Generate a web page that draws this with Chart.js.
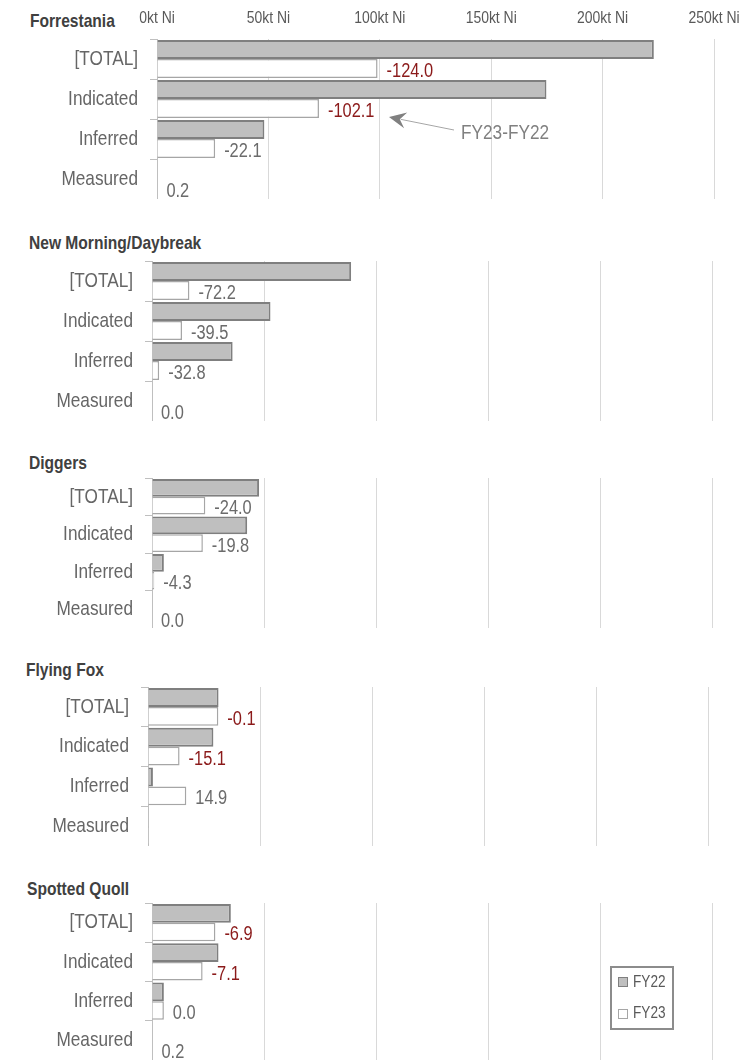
<!DOCTYPE html>
<html>
<head>
<meta charset="utf-8">
<script src="https://cdn.jsdelivr.net/npm/chart.js@4.4.0/dist/chart.umd.min.js"></script>
<style>
  body { margin: 0; background: #fff; }
  #pagina { position: relative; width: 749px; height: 1060px; overflow: hidden; font-family: 'Liberation Sans', Arial, sans-serif; }
  canvas { position: absolute; left: 0; }
  .titulo { position: absolute; font-weight: bold; color: #404040; font-size: 19px; line-height: 19px; white-space: nowrap; transform: scaleX(0.82); transform-origin: 0 0; }
  #legenda { position: absolute; left: 610px; top: 966px; width: 60px; height: 60px; border: 2px solid #8c8c8c; }
  .marca { position: absolute; left: 6px; width: 8px; height: 8px; }
  .nome { position: absolute; left: 21px; font-size: 16px; line-height: 16px; color: #595959; white-space: nowrap; transform: scaleX(0.85); transform-origin: 0 0; }
</style>
</head>
<body>
<div id="pagina"></div>
<script>
  const categorias = ['[TOTAL]', 'Indicated', 'Inferred', 'Measured'];
  const projetos = ['Forrestania', 'New Morning/Daybreak', 'Diggers', 'Flying Fox', 'Spotted Quoll'];
  const series = ['FY22', 'FY23'];
  const rotulos_x = ['0kt Ni', '50kt Ni', '100kt Ni', '150kt Ni', '200kt Ni', '250kt Ni'];

  // valores em kt Ni
  const fy22_forrestania = [223.0, 174.8, 48.2, 0.0];
  const fy23_forrestania = [99.0, 72.7, 26.1, 0.2];
  const dif_forrestania = ['-124.0', '-102.1', '-22.1', '0.2'];
  const verm_forrestania = [true, true, false, false];

  const fy22_newmorning = [88.9, 52.9, 36.0, 0.0];
  const fy23_newmorning = [16.7, 13.4, 3.2, 0.0];
  const dif_newmorning = ['-72.2', '-39.5', '-32.8', '0.0'];
  const verm_newmorning = [false, false, false, false];

  const fy22_diggers = [47.8, 42.5, 5.3, 0.0];
  const fy23_diggers = [23.8, 22.7, 1.0, 0.0];
  const dif_diggers = ['-24.0', '-19.8', '-4.3', '0.0'];
  const verm_diggers = [false, false, false, false];

  const fy22_flyingfox = [31.5, 29.2, 2.2, 0.0];
  const fy23_flyingfox = [31.4, 14.1, 17.1, 0.4];
  const dif_flyingfox = ['-0.1', '-15.1', '14.9', ''];
  const verm_flyingfox = [true, true, false, false];

  const fy22_quoll = [35.2, 29.7, 5.3, 0.0];
  const fy23_quoll = [28.3, 22.6, 5.3, 0.2];
  const dif_quoll = ['-6.9', '-7.1', '0.0', '0.2'];
  const verm_quoll = [true, true, false, false];

  const cor_fy22 = '#bfbfbf';
  const cor_borda_fy22 = '#7f7f7f';
  const cor_fy23 = '#ffffff';
  const cor_borda_fy23 = '#a6a6a6';
  const fonte = "'Liberation Sans', Arial, sans-serif";
  const estreito = 0.82; // imita Arial Narrow

  // posicao de cada painel na pagina
  const paineis = [
    { fy22: fy22_forrestania, fy23: fy23_forrestania, dif: dif_forrestania, verm: verm_forrestania, topo: 0, altura: 199, esq: 157, dir: 714, eixo: true, tituloX: 30, tituloY: 11 },
    { fy22: fy22_newmorning, fy23: fy23_newmorning, dif: dif_newmorning, verm: verm_newmorning, topo: 261, altura: 160, esq: 152, dir: 712, eixo: false, tituloX: 29, tituloY: 233 },
    { fy22: fy22_diggers, fy23: fy23_diggers, dif: dif_diggers, verm: verm_diggers, topo: 478, altura: 150, esq: 152, dir: 712, eixo: false, tituloX: 29, tituloY: 453 },
    { fy22: fy22_flyingfox, fy23: fy23_flyingfox, dif: dif_flyingfox, verm: verm_flyingfox, topo: 687, altura: 159, esq: 148, dir: 708, eixo: false, tituloX: 26, tituloY: 660 },
    { fy22: fy22_quoll, fy23: fy23_quoll, dif: dif_quoll, verm: verm_quoll, topo: 903, altura: 157, esq: 152, dir: 712, eixo: false, tituloX: 27, tituloY: 879 }
  ];

  const pagina = document.getElementById('pagina');

  function texto(ctx, t, x, y, alinha, tam, cor) {
    ctx.save();
    ctx.translate(x, y);
    ctx.scale(estreito, 1);
    ctx.font = tam + 'px ' + fonte;
    ctx.fillStyle = cor;
    ctx.textAlign = alinha;
    ctx.textBaseline = 'middle';
    ctx.fillText(t, 0, 0);
    ctx.restore();
  }

  // textos dos eixos, rotulos FY23-FY22 e seta
  const plugin_textos = {
    id: 'textos',
    afterDraw(chart) {
      const p = chart.options.plugins.textos;
      const ctx = chart.ctx;
      const sy = chart.scales.y;
      const sx = chart.scales.x;
      sy.ticks.forEach((t, i) => {
        texto(ctx, sy.getLabelForValue(t.value), chart.chartArea.left - 19, sy.getPixelForTick(i), 'right', 21, '#666666');
      });
      if (p.eixo) {
        sx.ticks.forEach((t, i) => {
          texto(ctx, rotulos_x[i], sx.getPixelForTick(i), 18, 'center', 17, '#595959');
        });
      }
      chart.getDatasetMeta(1).data.forEach((barra, i) => {
        if (!p.dif[i]) return;
        texto(ctx, p.dif[i], barra.x + 9, barra.y + 3, 'left', 20, p.verm[i] ? '#8b1a1a' : '#6b6b6b');
      });
      if (p.eixo) {
        texto(ctx, 'FY23-FY22', 461, 133, 'left', 21, '#808080');
        // seta de (x0,y0) ate a ponta (x1,y1)
        const x0 = 454, y0 = 130, x1 = 389, y1 = 117;
        const ang = Math.atan2(y1 - y0, x1 - x0);
        const c = Math.cos(ang), s = Math.sin(ang);
        ctx.save();
        ctx.strokeStyle = '#a6a6a6';
        ctx.lineWidth = 1;
        ctx.beginPath();
        ctx.moveTo(x0, y0);
        ctx.lineTo(x1 - 12 * c, y1 - 12 * s);
        ctx.stroke();
        ctx.fillStyle = '#808080';
        ctx.beginPath();
        ctx.moveTo(x1, y1);
        ctx.lineTo(x1 - 17 * c - 8 * s, y1 - 17 * s + 8 * c);
        ctx.lineTo(x1 - 11 * c, y1 - 11 * s);
        ctx.lineTo(x1 - 17 * c + 8 * s, y1 - 17 * s - 8 * c);
        ctx.closePath();
        ctx.fill();
        ctx.restore();
      }
    }
  };

  paineis.forEach((p, n) => {
    const titulo = document.createElement('div');
    titulo.className = 'titulo';
    titulo.style.left = p.tituloX + 'px';
    titulo.style.top = p.tituloY + 'px';
    titulo.textContent = projetos[n];
    pagina.appendChild(titulo);

    const canvas = document.createElement('canvas');
    canvas.width = 749;
    canvas.height = p.altura;
    canvas.style.top = p.topo + 'px';
    pagina.appendChild(canvas);

    const data = {
      labels: categorias,
      datasets: [{
        label: series[0],
        data: p.fy22,
        backgroundColor: cor_fy22,
        borderColor: cor_borda_fy22,
        borderWidth: 2,
      }, {
        label: series[1],
        data: p.fy23,
        backgroundColor: cor_fy23,
        borderColor: cor_borda_fy23,
        borderWidth: 1.5,
      }]
    };

    const config = {
      type: 'bar',
      data: data,
      options: {
        indexAxis: 'y',
        responsive: false,
        animation: false,
        categoryPercentage: 0.95,
        barPercentage: 1,
        layout: { padding: { left: 0, right: 749 - p.dir, top: 0, bottom: 0 } },
        plugins: {
          legend: { display: false },
          title: { display: false },
          tooltip: { enabled: false },
          textos: { dif: p.dif, verm: p.verm, eixo: p.eixo }
        },
        scales: {
          x: {
            position: 'top',
            min: 0,
            max: 250,
            afterFit: (s) => { s.height = p.eixo ? 39 : 0; },
            ticks: { display: false, stepSize: 50 },
            grid: { color: '#d9d9d9', drawTicks: false },
            border: { display: false }
          },
          y: {
            afterFit: (s) => { s.width = p.esq; },
            ticks: { display: false },
            grid: { display: true, drawOnChartArea: false, drawTicks: true, tickLength: 7, color: '#bfbfbf', offset: true },
            border: { display: true, color: '#bfbfbf', width: 1 }
          }
        }
      },
      plugins: [plugin_textos]
    };

    new Chart(canvas, config);
  });

  // legenda
  const legenda = document.createElement('div');
  legenda.id = 'legenda';
  [[cor_fy22, cor_borda_fy22], [cor_fy23, cor_borda_fy23]].forEach((c, i) => {
    const marca = document.createElement('div');
    marca.className = 'marca';
    marca.style.top = (9 + i * 32) + 'px';
    marca.style.background = c[0];
    marca.style.border = '1px solid ' + c[1];
    legenda.appendChild(marca);
    const nome = document.createElement('div');
    nome.className = 'nome';
    nome.style.top = (6 + i * 31) + 'px';
    nome.textContent = series[i];
    legenda.appendChild(nome);
  });
  pagina.appendChild(legenda);
</script>
</body>
</html>
